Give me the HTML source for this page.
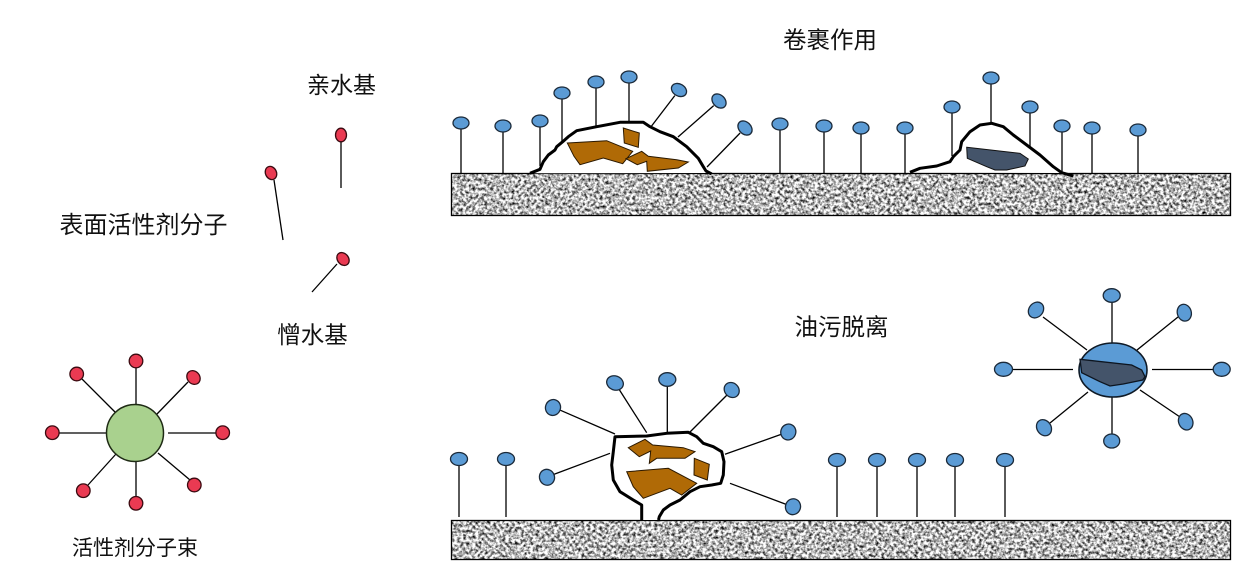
<!DOCTYPE html>
<html>
<head>
<meta charset="utf-8">
<style>
html,body{margin:0;padding:0;background:#fff;}
body{width:1251px;height:586px;overflow:hidden;}
svg{display:block;}
text{font-family:"Liberation Sans","Noto Sans CJK SC","WenQuanYi Zen Hei",sans-serif;fill:#111;}
</style>
</head>
<body>
<svg width="1251" height="586" viewBox="0 0 1251 586" xmlns="http://www.w3.org/2000/svg">
<defs>
<filter id="nz" x="0" y="0" width="100%" height="100%" filterUnits="objectBoundingBox" color-interpolation-filters="sRGB">
<feTurbulence type="fractalNoise" baseFrequency="0.33" numOctaves="3" seed="7"/>
<feColorMatrix type="matrix" values="2.1 0 0 0 -0.33  2.1 0 0 0 -0.33  2.1 0 0 0 -0.33  0 0 0 0 1"/>
</filter>
</defs>

<!-- ============ LEFT PANEL ============ -->
<text x="341.5" y="93" font-size="23" text-anchor="middle">亲水基</text>
<text x="143.5" y="233" font-size="24" text-anchor="middle">表面活性剂分子</text>
<text x="312.5" y="343" font-size="23.5" text-anchor="middle">憎水基</text>
<text x="135" y="555" font-size="21" text-anchor="middle">活性剂分子束</text>

<g stroke="#000" stroke-width="1.3">
<line x1="341" y1="141" x2="341" y2="188"/>
<line x1="274" y1="180" x2="283" y2="240"/>
<line x1="337" y1="264" x2="312" y2="292"/>
</g>
<g fill="#ea3a52" stroke="#3a0a10" stroke-width="1.3">
<ellipse cx="341" cy="135" rx="5.5" ry="6.8"/>
<ellipse cx="271" cy="173" rx="5.5" ry="6.8" transform="rotate(-25 271 173)"/>
<ellipse cx="343" cy="259" rx="5.5" ry="7" transform="rotate(-40 343 259)"/>
</g>

<!-- red micelle -->
<g stroke="#000" stroke-width="1.3">
<line x1="136" y1="367" x2="136" y2="405"/>
<line x1="136" y1="461" x2="136" y2="497"/>
<line x1="59" y1="433" x2="107" y2="433"/>
<line x1="168" y1="433" x2="216" y2="433"/>
<line x1="116" y1="413" x2="82" y2="379"/>
<line x1="157" y1="414" x2="188" y2="382"/>
<line x1="116" y1="454" x2="88" y2="485"/>
<line x1="158" y1="453" x2="190" y2="480"/>
</g>
<circle cx="135" cy="433" r="28.5" fill="#a9d18e" stroke="#1e2a14" stroke-width="1.5"/>
<g fill="#ea3a52" stroke="#3a0a10" stroke-width="1.3">
<circle cx="136" cy="361" r="6.8"/>
<ellipse cx="193.5" cy="377.5" rx="6.2" ry="7.3" transform="rotate(-40 193.5 377.5)"/>
<circle cx="222.7" cy="432.7" r="6.8"/>
<circle cx="194.3" cy="485" r="6.8"/>
<circle cx="136" cy="503.3" r="6.8"/>
<circle cx="83.3" cy="490.7" r="6.8"/>
<circle cx="52.3" cy="432.7" r="6.8"/>
<circle cx="76.7" cy="374" r="6.8"/>
</g>

<!-- ============ TOP PANEL ============ -->
<text x="830" y="48" font-size="23.5" text-anchor="middle">卷裹作用</text>

<rect x="451" y="173" width="779" height="42" filter="url(#nz)"/>
<rect x="451.5" y="173.5" width="779" height="42" fill="none" stroke="#000" stroke-width="1.3"/>

<g stroke="#000" stroke-width="1.3">
<line x1="461" y1="129" x2="461" y2="173"/>
<line x1="503" y1="132" x2="503" y2="173"/>
<line x1="540" y1="127" x2="540" y2="166"/>
<line x1="562" y1="99" x2="562" y2="141"/>
<line x1="596" y1="88" x2="596" y2="128"/>
<line x1="629" y1="83" x2="629" y2="123"/>
<line x1="674.8" y1="95.6" x2="647" y2="132"/>
<line x1="713.7" y1="105.6" x2="678" y2="137"/>
<line x1="740.1" y1="133" x2="707" y2="167"/>
<line x1="780" y1="130" x2="780" y2="173"/>
<line x1="824" y1="132" x2="824" y2="173"/>
<line x1="861" y1="134" x2="861" y2="173"/>
<line x1="905" y1="134" x2="905" y2="173"/>
<line x1="952" y1="113" x2="952" y2="156"/>
<line x1="991" y1="84" x2="991" y2="123"/>
<line x1="1030" y1="113" x2="1030" y2="155"/>
<line x1="1062" y1="132" x2="1062" y2="173"/>
<line x1="1092" y1="134" x2="1092" y2="173"/>
<line x1="1138" y1="136" x2="1138" y2="173"/>
</g>

<!-- blob 1 -->
<path d="M530,173.3 L540,169.3 L543.3,161.7 L548.3,155 L555,150 L556.7,146.7 L562.7,141.7 L568.3,136.7 L576.7,130.7 L596.7,126.7 L620,122.3 L643.3,122.3 L650,126.7 L660,131.7 L673.3,136.7 L686.7,146.7 L698.3,158.3 L703.3,166.7 L708,173 Z" fill="#fff"/>
<path d="M530,173.3 L540,169.3 L543.3,161.7 L548.3,155 L555,150 L556.7,146.7 L562.7,141.7 L568.3,136.7 L576.7,130.7 L596.7,126.7 L620,122.3 L643.3,122.3 L650,126.7 L660,131.7 L673.3,136.7 L686.7,146.7 L698.3,158.3 L703.3,166.7 L706,171 L711.7,174" fill="none" stroke="#000" stroke-width="3" stroke-linejoin="round"/>
<g fill="#b06a06" stroke="#2a1800" stroke-width="1">
<polygon points="567.3,143 606.7,140.7 632.7,151.3 622.7,163.7 603.3,158 580,164.7 574,156.3"/>
<polygon points="623.3,128 639.3,133 638.3,147.3 624.3,143"/>
<polygon points="626,158.7 641.7,151.3 648.3,156.3 676.7,159.7 688.3,162 678.3,168 647.3,171.3 646.7,161.3 637.3,164.7"/>
</g>

<!-- blob 2 -->
<path d="M910,172.3 L920,168.3 L936.7,166 L950,161.7 L953.3,156.7 L960,150 L961.7,141.7 L970,131.7 L980,125 L991.7,123.3 L1003.3,126.7 L1013.3,135 L1026.7,145 L1040,155 L1053.3,166.7 L1060,173 Z" fill="#fff"/>
<path d="M910,172.3 L920,168.3 L936.7,166 L950,161.7 L953.3,156.7 L960,150 L961.7,141.7 L970,131.7 L980,125 L991.7,123.3 L1003.3,126.7 L1013.3,135 L1026.7,145 L1040,155 L1053.3,166.7 L1061.7,172.7 L1073.3,176" fill="none" stroke="#000" stroke-width="3" stroke-linejoin="round"/>
<polygon points="966.7,147.3 1020,153.3 1028.3,159 1025,166 1006.7,170 995,170 986.7,166.7 967.3,158.3" fill="#44546a" stroke="#111" stroke-width="1"/>

<g fill="#5b9bd5" stroke="#1b2a3a" stroke-width="1.3">
<ellipse cx="461" cy="123" rx="8" ry="6"/>
<ellipse cx="503" cy="126" rx="8" ry="6"/>
<ellipse cx="540" cy="121" rx="8" ry="6"/>
<ellipse cx="562" cy="93" rx="8" ry="6"/>
<ellipse cx="596" cy="82" rx="8" ry="6"/>
<ellipse cx="629" cy="77" rx="8" ry="6"/>
<ellipse cx="679" cy="90" rx="8" ry="6" transform="rotate(30 679 90)"/>
<ellipse cx="719" cy="101" rx="8" ry="6" transform="rotate(45 719 101)"/>
<ellipse cx="745" cy="128" rx="8" ry="6" transform="rotate(45 745 128)"/>
<ellipse cx="780" cy="124" rx="8" ry="6"/>
<ellipse cx="824" cy="126" rx="8" ry="6"/>
<ellipse cx="861" cy="128" rx="8" ry="6"/>
<ellipse cx="905" cy="128" rx="8" ry="6"/>
<ellipse cx="952" cy="107" rx="8" ry="6"/>
<ellipse cx="991" cy="78" rx="8" ry="6"/>
<ellipse cx="1030" cy="107" rx="8" ry="6"/>
<ellipse cx="1062" cy="126" rx="8" ry="6"/>
<ellipse cx="1092" cy="128" rx="8" ry="6"/>
<ellipse cx="1138" cy="130" rx="8" ry="6"/>
</g>

<!-- ============ BOTTOM PANEL ============ -->
<text x="841.5" y="335" font-size="23.5" text-anchor="middle">油污脱离</text>

<rect x="451" y="520" width="779" height="39" filter="url(#nz)"/>
<rect x="451.5" y="520.5" width="779" height="39" fill="none" stroke="#000" stroke-width="1.3"/>

<g stroke="#000" stroke-width="1.3">
<line x1="459" y1="465" x2="459" y2="517"/>
<line x1="506" y1="465" x2="506" y2="517"/>
<line x1="837" y1="466" x2="837" y2="517"/>
<line x1="877" y1="466" x2="877" y2="517"/>
<line x1="917" y1="466" x2="917" y2="517"/>
<line x1="955" y1="466" x2="955" y2="517"/>
<line x1="1005" y1="466" x2="1005" y2="517"/>
<line x1="559.4" y1="409.8" x2="615" y2="434"/>
<line x1="618.8" y1="388.9" x2="646.7" y2="432.7"/>
<line x1="667.3" y1="385" x2="667.3" y2="436"/>
<line x1="727" y1="395" x2="690" y2="432"/>
<line x1="781.4" y1="434.3" x2="725" y2="454.3"/>
<line x1="553.5" y1="474.5" x2="610" y2="453.3"/>
<line x1="786.5" y1="504.5" x2="730" y2="483.3"/>
</g>

<!-- blob 3 -->
<path d="M641.7,520 L641.7,505 L633.3,500 L620,491.7 L613.3,480 L611.7,465 L613.3,451.7 L615,436.7 L646.7,436 L666.7,433.3 L688.3,432.3 L696.7,436.7 L703.3,443.3 L713.3,446.7 L721.7,451.7 L724,461.7 L723.3,475 L720.7,483.3 L711.7,485 L700,486.7 L690,491.7 L680,500 L670,505 L663.3,510 L659.3,516.7 L659,520 Z" fill="#fff"/>
<path d="M641.7,520 L641.7,505 L633.3,500 L620,491.7 L613.3,480 L611.7,465 L613.3,451.7 L615,436.7 L646.7,436 L666.7,433.3 L688.3,432.3 L696.7,436.7 L703.3,443.3 L713.3,446.7 L721.7,451.7 L724,461.7 L723.3,475 L720.7,483.3 L711.7,485 L700,486.7 L690,491.7 L680,500 L670,505 L663.3,510 L659.3,516.7 L658.5,520" fill="none" stroke="#000" stroke-width="3" stroke-linejoin="round"/>
<g fill="#b06a06" stroke="#2a1800" stroke-width="1">
<polygon points="628.3,447.7 645,439.3 652.7,445 683.3,447.7 695,451.7 685,458.3 656.7,458.3 649.3,463.3 650.7,451 639.3,456.7"/>
<polygon points="694.3,458.3 709.3,464.3 707.3,480 694,475"/>
<polygon points="626.7,471.7 668.3,468.3 696.7,483.3 681.7,495 670,488.3 643.3,498.3 633.3,486.7"/>
</g>

<g fill="#5b9bd5" stroke="#1b2a3a" stroke-width="1.3">
<ellipse cx="459" cy="459" rx="8.5" ry="6.5"/>
<ellipse cx="506" cy="459" rx="8.5" ry="6.5"/>
<ellipse cx="837" cy="460" rx="8.5" ry="6.5"/>
<ellipse cx="877" cy="460" rx="8.5" ry="6.5"/>
<ellipse cx="917" cy="460" rx="8.5" ry="6.5"/>
<ellipse cx="955" cy="460" rx="8.5" ry="6.5"/>
<ellipse cx="1005" cy="460" rx="8.5" ry="6.5"/>
<ellipse cx="553" cy="407.5" rx="8" ry="7.5" transform="rotate(-70 553 407.5)"/>
<ellipse cx="615" cy="383" rx="8.5" ry="7" transform="rotate(20 615 383)"/>
<ellipse cx="667.3" cy="379.5" rx="8.5" ry="6.8"/>
<ellipse cx="731.7" cy="390" rx="8" ry="7" transform="rotate(45 731.7 390)"/>
<ellipse cx="788.3" cy="432" rx="7.5" ry="8" transform="rotate(20 788.3 432)"/>
<ellipse cx="547" cy="477.3" rx="7.5" ry="8" transform="rotate(-20 547 477.3)"/>
<ellipse cx="793" cy="506.7" rx="7.5" ry="8" transform="rotate(20 793 506.7)"/>
</g>

<!-- oil micelle -->
<g stroke="#000" stroke-width="1.3">
<line x1="1112" y1="302" x2="1112" y2="344"/>
<line x1="1112" y1="397" x2="1112" y2="434"/>
<line x1="1012" y1="369.5" x2="1073" y2="369.5"/>
<line x1="1152" y1="369.5" x2="1213" y2="369.5"/>
<line x1="1043" y1="317" x2="1087" y2="350"/>
<line x1="1178" y1="317" x2="1137" y2="350"/>
<line x1="1050" y1="423" x2="1088" y2="392"/>
<line x1="1180" y1="417" x2="1140" y2="390"/>
</g>
<ellipse cx="1113" cy="370" rx="34" ry="27" fill="#5b9bd5" stroke="#0f1a26" stroke-width="1.6"/>
<polygon points="1080,359.3 1131.7,365 1135,366.7 1141.7,370 1145,376.7 1142.7,380 1123.3,384 1110,386 1100,381.7 1081.7,372.7" fill="#44546a" stroke="#0d1520" stroke-width="1.3"/>
<g fill="#5b9bd5" stroke="#1b2a3a" stroke-width="1.3">
<ellipse cx="1111.7" cy="295.5" rx="8.5" ry="6.8"/>
<ellipse cx="1111.7" cy="441" rx="8" ry="7"/>
<ellipse cx="1003.5" cy="369.3" rx="9" ry="7"/>
<ellipse cx="1221.7" cy="369.3" rx="8.5" ry="7"/>
<ellipse cx="1036" cy="310" rx="7" ry="8.5" transform="rotate(40 1036 310)"/>
<ellipse cx="1184.3" cy="312.7" rx="7" ry="8.5" transform="rotate(-15 1184.3 312.7)"/>
<ellipse cx="1044" cy="427.7" rx="7" ry="8.5" transform="rotate(-35 1044 427.7)"/>
<ellipse cx="1185.7" cy="421.7" rx="7" ry="8.5" transform="rotate(-25 1185.7 421.7)"/>
</g>
</svg>
</body>
</html>
